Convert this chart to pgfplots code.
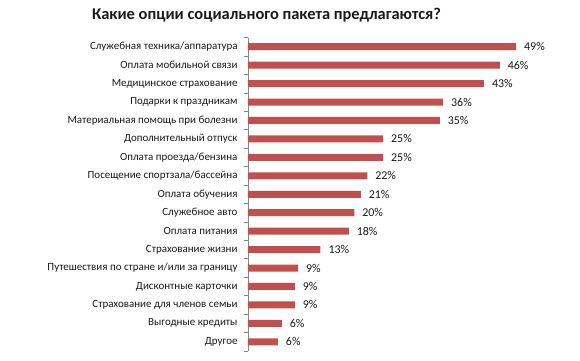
\documentclass[border=0pt]{standalone}
\usepackage{pgfplots}
\pgfplotsset{compat=1.18}
\usepackage{pgfplotstable}
\usepackage{fontspec}
\setmainfont{Carlito}
\definecolor{barred}{HTML}{C0504D}
\definecolor{axgray}{HTML}{868686}
\definecolor{txt}{HTML}{1A1A1A}

\pgfplotstableread[col sep=comma]{
idx,val,lab
0,49.2,49
1,46.2,46
2,43.3,43
3,35.8,36
4,35.2,35
5,24.8,25
6,24.8,25
7,21.9,22
8,20.7,21
9,19.5,20
10,18.5,18
11,13.3,13
12,9.2,9
13,8.6,9
14,8.6,9
15,6.2,6
16,5.5,6
}\datatable

\begin{document}
\begin{tikzpicture}
\path[use as bounding box] (-248bp,-10bp) rectangle (332bp,351bp);
\begin{axis}[
  scale only axis,
  width=327bp, height=313.5bp,
  xmin=0, xmax=60,
  ymin=-0.5, ymax=16.5,
  y dir=reverse,
  axis x line=none,
  axis y line*=left,
  y axis line style={axgray, line width=0.6bp},
  ytick={0,...,16},
  yticklabels={Служебная техника/аппаратура,Оплата мобильной связи,Медицинское страхование,Подарки к праздникам,Материальная помощь при болезни,Дополнительный отпуск,Оплата проезда/бензина,Посещение спортзала/бассейна,Оплата обучения,Служебное авто,Оплата питания,Страхование жизни,Путешествия по стране и/или за границу,Дисконтные карточки,Страхование для членов семьи,Выгодные кредиты,Другое},
  major tick length=0pt,
  minor ytick={-0.5,0.5,...,16.5},
  minor tick length=3.5bp,
  tick align=outside,
  ytick pos=left,
  minor tick style={axgray, line width=0.6bp},
  yticklabel style={font=\fontsize{11}{13}\selectfont, text=txt, xshift=-7bp},
  clip=false,
]
\addplot[xbar, bar width=7bp, fill=barred, draw=none,
  nodes near coords={\pgfplotspointmeta\%},
  point meta=explicit symbolic,
  every node near coord/.append style={font=\fontsize{12}{14}\selectfont, text=txt, anchor=west, xshift=4.5bp}]
  table[x=val, y=idx, meta=lab] {\datatable};
\end{axis}
\node[font=\bfseries\fontsize{16.5}{19}\selectfont, text=txt] at (18.5bp,336bp) {Какие опции социального пакета предлагаются?};
\end{tikzpicture}
\end{document}
